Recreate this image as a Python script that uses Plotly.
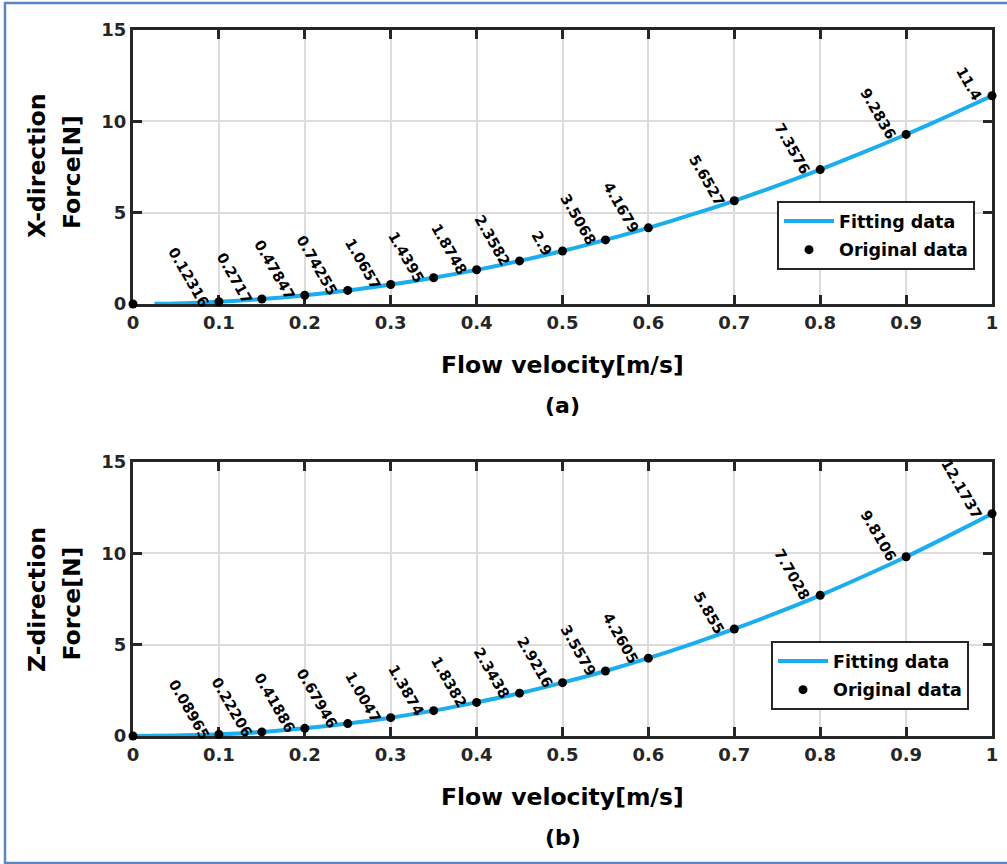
import math
import plotly.graph_objects as go

# ---------------- data ----------------
velocity = [0, 0.1, 0.15, 0.2, 0.25, 0.3, 0.35, 0.4, 0.45, 0.5, 0.55, 0.6, 0.7, 0.8, 0.9, 1.0]
force_x = [0, 0.12316, 0.2717, 0.47847, 0.74255, 1.0657, 1.4395, 1.8748, 2.3582, 2.9,
           3.5068, 4.1679, 5.6527, 7.3576, 9.2836, 11.4]
force_z = [0, 0.08965, 0.22206, 0.41886, 0.67946, 1.0047, 1.3874, 1.8382, 2.3438, 2.9216,
           3.5579, 4.2605, 5.855, 7.7028, 9.8106, 12.1737]

# fitted curves
fit_v_x = [0.025, 0.05, 0.1, 0.15, 0.2, 0.25, 0.3, 0.35, 0.4, 0.45, 0.5, 0.55, 0.6, 0.65,
           0.7, 0.75, 0.8, 0.85, 0.9, 0.95, 1.0]
fit_f_x = [0.01, 0.03, 0.12, 0.27, 0.48, 0.74, 1.07, 1.44, 1.87, 2.36, 2.90, 3.51, 4.17, 4.89,
           5.65, 6.48, 7.36, 8.30, 9.28, 10.32, 11.40]
fit_v_z = [0, 0.05, 0.1, 0.15, 0.2, 0.25, 0.3, 0.35, 0.4, 0.45, 0.5, 0.55, 0.6, 0.65,
           0.7, 0.75, 0.8, 0.85, 0.9, 0.95, 1.0]
fit_f_z = [0.0, 0.03, 0.09, 0.22, 0.42, 0.68, 1.00, 1.39, 1.84, 2.34, 2.92, 3.56, 4.26, 5.03,
           5.86, 6.75, 7.70, 8.73, 9.81, 10.97, 12.17]

x_ticks = [0, 0.1, 0.2, 0.3, 0.4, 0.5, 0.6, 0.7, 0.8, 0.9, 1]
x_ticktext = ["0", "0.1", "0.2", "0.3", "0.4", "0.5", "0.6", "0.7", "0.8", "0.9", "1"]
y_ticks = [0, 5, 10, 15]

x_title = "Flow velocity[m/s]"
y_titles_a = ["X-direction", "Force[N]"]
y_titles_b = ["Z-direction", "Force[N]"]
panel_tags = ["(a)", "(b)"]
legend_names = ["Fitting data", "Original data"]

# ---------------- styling ----------------
W, H = 1007, 864
FONT = "DejaVu Sans"
AX = "#262626"
BLUE = "#19AEEF"
GRID = "#DCDCDC"


def px(p):
    return p / W


def py(p):
    return 1 - p / H


X0, X1 = 133, 992
A_TOP, A_BOT = 30, 304
B_TOP, B_BOT = 462, 736

fig = go.Figure()

panels = [
    dict(xa="x", ya="y", fv=fit_v_x, ff=fit_f_x, f=force_x, leg="legend"),
    dict(xa="x2", ya="y2", fv=fit_v_z, ff=fit_f_z, f=force_z, leg="legend2"),
]

for p in panels:
    fig.add_trace(go.Scatter(
        x=p["fv"], y=p["ff"], mode="lines", name=legend_names[0],
        line=dict(color=BLUE, width=4, shape="spline", smoothing=0.8),
        xaxis=p["xa"], yaxis=p["ya"], legend=p["leg"], legendgroup="fit",
    ))
    fig.add_trace(go.Scatter(
        x=velocity, y=p["f"], mode="markers", name=legend_names[1],
        marker=dict(color="black", size=9),
        xaxis=p["xa"], yaxis=p["ya"], legend=p["leg"], legendgroup="orig",
        cliponaxis=False,
    ))

axis_common = dict(
    showgrid=True, gridcolor=GRID, gridwidth=2,
    showline=True, linecolor=AX, linewidth=3, mirror="ticks",
    ticks="inside", ticklen=9, tickwidth=3, tickcolor=AX,
    tickfont=dict(family=FONT, size=18, color=AX, weight="bold"),
    zeroline=False, layer="below traces", automargin=False,
)

legend_common = dict(
    xanchor="left", yanchor="top", bgcolor="white", bordercolor=AX, borderwidth=2,
    font=dict(family=FONT, size=17.5, color="black", weight="bold"),
    tracegroupgap=3, itemwidth=50,
)

xdom = [px(X0), px(X1)]
fig.update_layout(
    width=W, height=H,
    margin=dict(l=0, r=0, t=0, b=0, pad=0),
    paper_bgcolor="white", plot_bgcolor="white",
    showlegend=True, hovermode=False,
    xaxis=dict(domain=xdom, range=[0, 1], tickvals=x_ticks, ticktext=x_ticktext,
               anchor="y", **axis_common),
    yaxis=dict(domain=[py(A_BOT), py(A_TOP)], range=[0, 15], tickvals=y_ticks,
               anchor="x", **axis_common),
    xaxis2=dict(domain=xdom, range=[0, 1], tickvals=x_ticks, ticktext=x_ticktext,
                anchor="y2", **axis_common),
    yaxis2=dict(domain=[py(B_BOT), py(B_TOP)], range=[0, 15], tickvals=y_ticks,
                anchor="x2", **axis_common),
    legend=dict(x=px(777), y=py(201), **legend_common),
    legend2=dict(x=px(771), y=py(641), **legend_common),
)

# ---------------- data labels ----------------
FS_LBL = 14.5
TH = math.radians(60)
C, S = math.cos(TH), math.sin(TH)


def text_len(s):
    return sum(0.696 if ch.isdigit() else 0.380 for ch in s) * FS_LBL


annotations = []
for p in panels:
    for v, f in zip(velocity[1:], p["f"][1:]):
        s = f"{f:g}"
        along = text_len(s) / 2 + 3.7
        perp = 13.8
        dx = -along * C - perp * S
        dy = -along * S + perp * C  # screen (down positive)
        annotations.append(dict(
            x=v, y=f, xref=p["xa"], yref=p["ya"], text=s, showarrow=False,
            textangle=60, xanchor="center", yanchor="middle",
            xshift=dx, yshift=-dy,
            font=dict(family=FONT, size=FS_LBL, color="black", weight="bold"),
        ))

# ---------------- titles ----------------
xc = px((X0 + X1) / 2)
title_font = dict(family=FONT, size=23.5, color="black", weight="bold")
for yc_title, yc_tag, tag in [(365, 405, panel_tags[0]), (797, 837, panel_tags[1])]:
    annotations.append(dict(x=xc, y=py(yc_title), xref="paper", yref="paper",
                            text=x_title, showarrow=False, xanchor="center",
                            yanchor="middle", font=title_font))
    annotations.append(dict(x=xc, y=py(yc_tag), xref="paper", yref="paper",
                            text=tag, showarrow=False, xanchor="center",
                            yanchor="middle",
                            font=dict(family=FONT, size=22, color="black", weight="bold")))

for titles, (yc1, yc2) in [(y_titles_a, (166.5, 172.5)), (y_titles_b, (599.5, 604))]:
    annotations.append(dict(x=px(36.5), y=py(yc1), xref="paper", yref="paper",
                            text=titles[0], showarrow=False, textangle=-90,
                            xanchor="center", yanchor="middle", font=title_font))
    annotations.append(dict(x=px(71.5), y=py(yc2), xref="paper", yref="paper",
                            text=titles[1], showarrow=False, textangle=-90,
                            xanchor="center", yanchor="middle", font=title_font))

fig.update_layout(annotations=annotations)

# frame around the figure (blue border)
fig.add_shape(type="rect", xref="paper", yref="paper",
              x0=px(5), x1=1.01, y0=py(863), y1=py(3),
              line=dict(color="#5B87C0", width=2.5), fillcolor="rgba(0,0,0,0)",
              layer="above")

fig.write_html(
    "out.html",
    config={"displayModeBar": False, "staticPlot": True},
    post_script="document.body.style.margin='0';document.body.style.padding='0';"
                "document.body.style.overflow='hidden';",
)
